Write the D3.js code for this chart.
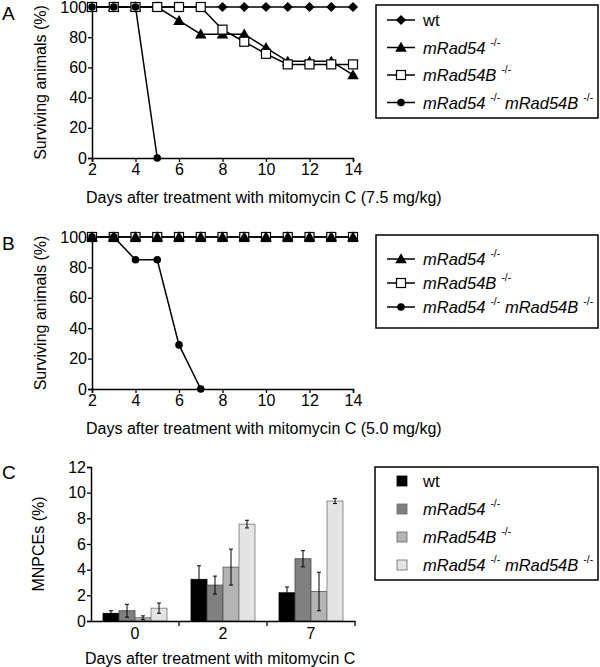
<!DOCTYPE html>
<html><head><meta charset="utf-8">
<script src="https://cdnjs.cloudflare.com/ajax/libs/d3/7.8.5/d3.min.js"></script>
<style>body{margin:0;background:#fff}svg{display:block;font-family:"Liberation Sans",Arial,sans-serif}</style>
</head><body>
<script>
// ---------- data ----------
const days = [2,3,4,5,6,7,8,9,10,11,12,13,14];
const xTicks = [2,4,6,8,10,12,14];
const yTicksSurv = [0,20,40,60,80,100];
// Panel A (7.5 mg/kg)
const aWt        = [100,100,100,100,100,100,100,100,100,100,100,100,100];
const aRad54     = [100,100,100,100,91,82,82,82,73,64,64,64,55];
const aRad54B    = [100,100,100,100,100,100,85,77,69,62,62,62,62];
const aDouble    = [100,100,100,0];
// Panel B (5.0 mg/kg)
const bRad54     = [100,100,100,100,100,100,100,100,100,100,100,100,100];
const bRad54B    = [100,100,100,100,100,100,100,100,100,100,100,100,100];
const bDouble    = [100,100,85,85,29,0];
// Panel C
const cDays = ["0","2","7"];
const cSeries = ["wt","mRad54","mRad54B","double"];
const cWt      = [0.6, 3.25, 2.2];
const cWtErr   = [0.2, 1.05, 0.45];
const cRad54   = [0.8, 2.8, 4.85];
const cRad54Err= [0.5, 0.7, 0.63];
const cRad54B  = [0.25, 4.2, 2.3];
const cRad54BErr=[0.15, 1.4, 1.5];
const cDouble  = [1.0, 7.55, 9.35];
const cDoubleErr=[0.4, 0.3, 0.2];
const cTicks = [0,2,4,6,8,10,12];

const W=600,H=667;
const svg=d3.select("body").append("svg").attr("width",W).attr("height",H);
const FS=16;   // axis text
const LFS=16.5; // legend text

function supLabel(g, x, y, parts){
  const t=g.append("text").attr("x",x).attr("y",y).attr("font-size",LFS).attr("fill","#000");
  parts.forEach(p=>{
    if(p[2]){
      t.append("tspan").attr("dx",5).attr("dy",-8).attr("font-size",10.5).text(p[0]);
      t.append("tspan").attr("dy",8).attr("font-size",LFS).text("\u00a0");
    } else {
      t.append("tspan").attr("font-style",p[1]?"italic":"normal").text(p[0]);
    }
  });
}
const lbl = {
  wt:[["wt",false,false]],
  mRad54:[["mRad54",true,false],["-/-",false,true]],
  mRad54B:[["mRad54B",true,false],["-/-",false,true]],
  double:[["mRad54",true,false],["-/-",false,true],["mRad54B",true,false],["-/-",false,true]]
};

function marker(g, type, x, y){
  if(type==="diamond"){
    g.append("path").attr("d",d3.symbol(d3.symbolSquare,52)()).attr("transform",`translate(${x},${y}) rotate(45)`).attr("fill","#000");
  } else if(type==="triangle"){
    g.append("path").attr("d",d3.symbol(d3.symbolTriangle,58)()).attr("transform",`translate(${x},${y+1})`).attr("fill","#000");
  } else if(type==="square"){
    g.append("rect").attr("x",x-4.5).attr("y",y-4.5).attr("width",9).attr("height",9).attr("fill","#fff").attr("stroke","#000").attr("stroke-width",1.2);
  } else {
    g.append("circle").attr("cx",x).attr("cy",y).attr("r",3.8).attr("fill","#000");
  }
}

function survPanel(top, bottom, letter, title, seriesList, legendOrder, legend){
  const x=d3.scaleLinear().domain([2,14]).range([92,353]);
  const y=d3.scaleLinear().domain([0,100]).range([bottom,top]);
  const g=svg.append("g");
  const xa=g.append("g").attr("transform",`translate(0,${bottom})`)
    .call(d3.axisBottom(x).tickValues(xTicks).tickSize(4).tickPadding(2).tickFormat(d3.format("d")));
  const ya=g.append("g").attr("transform",`translate(92,0)`)
    .call(d3.axisLeft(y).tickValues(yTicksSurv).tickSize(4).tickPadding(1));
  [xa,ya].forEach(a=>{a.select(".domain").attr("stroke-width",1.5);a.selectAll(".tick line").attr("stroke-width",1.3);
    a.selectAll("text").attr("font-size",FS).attr("font-family","inherit").attr("fill","#000");});
  g.append("text").attr("x",86).attr("y",bottom+45).attr("font-size",FS).text(title);
  g.append("text").attr("transform",`translate(46,${(top+bottom)/2}) rotate(-90)`).attr("text-anchor","middle").attr("font-size",FS).text("Surviving animals (%)");
  g.append("text").attr("x",2).attr("y",top+13).attr("font-size",19).text(letter);
  const line=d3.line().x((d,i)=>x(days[i])).y(d=>y(d));
  seriesList.forEach(s=>{
    g.append("path").attr("d",line(s.v)).attr("fill","none").attr("stroke","#000").attr("stroke-width",1.5);
  });
  seriesList.forEach(s=>{ s.v.forEach((d,i)=>marker(g,s.m,x(days[i]),y(d))); });
  const lg=svg.append("g");
  lg.append("rect").attr("x",legend.x).attr("y",legend.y).attr("width",legend.w).attr("height",legend.h).attr("fill","none").attr("stroke","#000").attr("stroke-width",1.5);
  legendOrder.forEach((k,i)=>{
    const s=seriesList.find(d=>d.k===k);
    const yy=legend.y0+i*legend.dy;
    lg.append("line").attr("x1",387).attr("x2",415).attr("y1",yy).attr("y2",yy).attr("stroke","#000").attr("stroke-width",1.5);
    marker(lg,s.m,401,yy);
    supLabel(lg,423,yy+6,lbl[s.k]);
  });
}

survPanel(7,158,"A","Days after treatment with mitomycin C (7.5 mg/kg)",[
  {k:"wt",v:aWt,m:"diamond"},
  {k:"mRad54",v:aRad54,m:"triangle"},
  {k:"mRad54B",v:aRad54B,m:"square"},
  {k:"double",v:aDouble,m:"circle"}
],["wt","mRad54","mRad54B","double"],{x:376,y:5,w:222,h:113,y0:20,dy:27.5});

survPanel(237,389,"B","Days after treatment with mitomycin C (5.0 mg/kg)",[
  {k:"mRad54B",v:bRad54B,m:"square"},
  {k:"mRad54",v:bRad54,m:"triangle"},
  {k:"double",v:bDouble,m:"circle"}
],["mRad54","mRad54B","double"],{x:376,y:235,w:222,h:93,y0:259,dy:24});

// ---------- Panel C ----------
(function(){
  const x=d3.scaleBand().domain(cDays).range([91,355]);
  const xs=d3.scaleBand().domain(cSeries).range([12,76]);
  const y=d3.scaleLinear().domain([0,12]).range([621,467]);
  const fills={wt:"#000000",mRad54:"#808080",mRad54B:"#b4b4b4",double:"#e4e4e4"};
  const strokes={wt:"#000",mRad54:"#444",mRad54B:"#555",double:"#777"};
  const vals={wt:[cWt,cWtErr],mRad54:[cRad54,cRad54Err],mRad54B:[cRad54B,cRad54BErr],double:[cDouble,cDoubleErr]};
  const g=svg.append("g");
  cSeries.forEach(s=>{
    cDays.forEach((d,i)=>{
      const v=vals[s][0][i], e=vals[s][1][i];
      const bx=x(d)+xs(s);
      g.append("rect").attr("x",bx).attr("y",y(v)).attr("width",xs.bandwidth()).attr("height",y(0)-y(v))
        .attr("fill",fills[s]).attr("stroke",strokes[s]).attr("stroke-width",0.8);
      const cx=bx+xs.bandwidth()/2;
      g.append("line").attr("x1",cx).attr("x2",cx).attr("y1",y(v-e)).attr("y2",y(v+e)).attr("stroke","#000").attr("stroke-width",1);
      [v-e,v+e].forEach(t=>g.append("line").attr("x1",cx-2).attr("x2",cx+2).attr("y1",y(t)).attr("y2",y(t)).attr("stroke","#000").attr("stroke-width",1));
    });
  });
  const xa=g.append("g").attr("transform","translate(0,621)").call(d3.axisBottom(x).tickSize(0).tickPadding(7));
  cDays.forEach(d=>{ xa.append("line").attr("x1",x(d)+x.bandwidth()).attr("x2",x(d)+x.bandwidth()).attr("y1",0).attr("y2",5).attr("stroke","#000").attr("stroke-width",1.3); });
  const ya=g.append("g").attr("transform","translate(91,0)").call(d3.axisLeft(y).tickValues(cTicks).tickSize(4).tickPadding(1));
  [xa,ya].forEach(a=>{a.select(".domain").attr("stroke-width",1.5);a.selectAll(".tick line").attr("stroke-width",1.3);
    a.selectAll("text").attr("font-size",FS).attr("font-family","inherit").attr("fill","#000");});
  g.append("text").attr("x",85).attr("y",664).attr("font-size",FS).text("Days after treatment with mitomycin C");
  g.append("text").attr("transform",`translate(44,544) rotate(-90)`).attr("text-anchor","middle").attr("font-size",FS).text("MNPCEs (%)");
  g.append("text").attr("x",2).attr("y",479).attr("font-size",19).text("C");
  const lg=svg.append("g");
  lg.append("rect").attr("x",375).attr("y",467).attr("width",223).attr("height",113).attr("fill","none").attr("stroke","#000").attr("stroke-width",1.5);
  cSeries.forEach((s,i)=>{
    const yy=481+i*28;
    lg.append("rect").attr("x",397).attr("y",yy-5).attr("width",10).attr("height",10).attr("fill",fills[s]).attr("stroke",s==="wt"?"#000":"#666").attr("stroke-width",0.8);
    supLabel(lg,423,yy+6,lbl[s]);
  });
})();
</script>
</body></html>
